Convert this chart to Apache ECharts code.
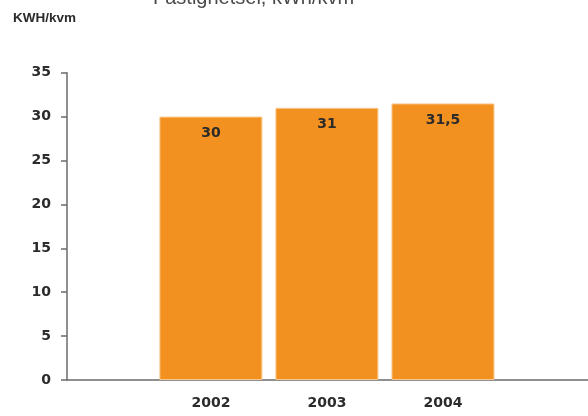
<!DOCTYPE html>
<html>
<head>
<meta charset="utf-8">
<script src="https://cdn.jsdelivr.net/npm/echarts@6/dist/echarts.min.js"></script>
<style>html,body{margin:0;padding:0;background:#fff}#c{width:588px;height:416px}</style>
</head>
<body>
<div id="c"></div>
<script>
const years = [2002, 2003, 2004];
const values = [30, 31, 31.5];
const yTicks = [0, 5, 10, 15, 20, 25, 30, 35];
const titleText = 'Fastighetsel, kWh/kvm';
const unitText = 'KWH/kvm';

const chart = echarts.init(document.getElementById('c'), null, {renderer: 'canvas'});
const numFont = "'DejaVu Sans', sans-serif";
chart.setOption({
  animation: false,
  title: [
    {text: titleText, left: 153, top: -12, padding: 0, textStyle: {fontFamily: "'Liberation Sans', Arial, sans-serif", fontSize: 20, fontWeight: 'normal', color: '#4a4a4a'}},
    {text: unitText, left: 13, top: 11, padding: 0, textStyle: {fontFamily: "'Liberation Sans', sans-serif", fontSize: 13.5, fontWeight: 'bold', color: '#2b2b2b'}}
  ],
  grid: {left: 67, right: 0, top: 72.7, bottom: 36, containLabel: false},
  xAxis: {
    type: 'value', min: 2000.76, max: 2005.25,
    axisLine: {show: true, lineStyle: {color: '#6b6b6b', width: 1.5}},
    axisTick: {show: false},
    splitLine: {show: false},
    axisLabel: {customValues: years, formatter: v => String(v), margin: 16, fontFamily: numFont, fontSize: 14, fontWeight: 'bold', color: '#2b2b2b'}
  },
  yAxis: {
    type: 'value', min: yTicks[0], max: yTicks[yTicks.length - 1], interval: 5,
    axisLine: {show: true, lineStyle: {color: '#6b6b6b', width: 1.5}},
    axisTick: {show: true, length: 6, lineStyle: {color: '#6b6b6b', width: 1.5}},
    splitLine: {show: false},
    axisLabel: {margin: 16, fontFamily: numFont, fontSize: 14, fontWeight: 'bold', color: '#2b2b2b'}
  },
  series: [{
    type: 'bar',
    barWidth: 103,
    data: years.map((y, i) => [y, values[i]]),
    itemStyle: {color: '#f29020', borderColor: '#f9c88e', borderWidth: 1},
    label: {show: true, position: 'insideTop', distance: 10, formatter: p => String(p.value[1]).replace('.', ','), fontFamily: numFont, fontSize: 14, fontWeight: 'bold', color: '#2b2b2b'}
  }]
});
</script>
</body>
</html>
